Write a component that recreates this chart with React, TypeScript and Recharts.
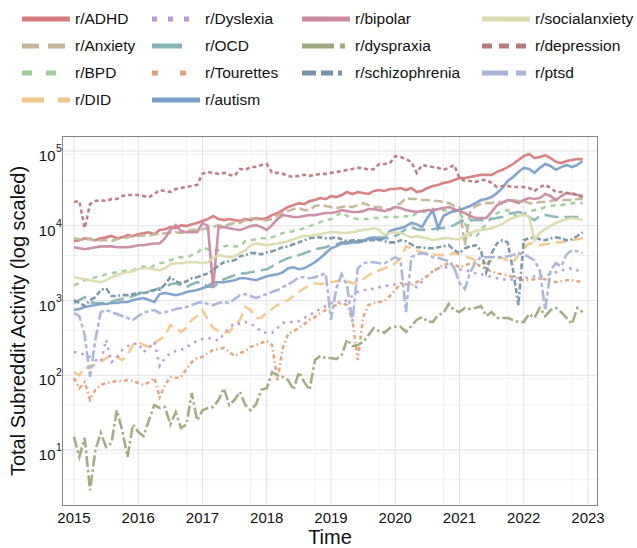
import React from 'react';
import { LineChart, Line, XAxis, YAxis, CartesianGrid } from 'recharts';

// monthly samples, Jan 2015 .. Dec 2022
const years = [2015, 2016, 2017, 2018, 2019, 2020, 2021, 2022];
const time = years.flatMap(y => Array.from({ length: 12 }, (_, m) => y + m / 12));

const adhd = [6200, 6400, 6800, 6600, 6400, 6800, 7000, 7300, 6800, 7000, 7500, 7300, 7700, 8000, 8200, 7700, 8800, 9000, 9600, 9300, 10200, 9900, 10500, 10900, 11600, 12300, 13500, 12300, 11900, 12300, 11900, 11600, 12300, 11900, 12700, 12300, 12700, 13900, 14800, 16200, 17800, 18900, 20100, 19500, 21400, 22100, 23500, 22800, 25000, 24200, 25800, 28300, 26600, 28300, 27400, 26600, 29200, 30100, 29200, 31000, 31000, 32000, 30100, 32000, 28300, 29200, 32000, 34100, 35200, 37400, 38600, 41000, 43500, 43500, 45000, 46500, 48000, 48000, 48000, 52500, 56000, 61000, 67000, 76000, 85500, 91000, 80500, 83000, 88000, 80500, 71500, 69000, 73500, 76000, 78000, 78000];
const anxiety = [6800, 6600, 6400, 6800, 6200, 6400, 6400, 6200, 6600, 6800, 7000, 7300, 7300, 7500, 7300, 7700, 7700, 8000, 8000, 8200, 8000, 8500, 8800, 8800, 9000, 9300, 9600, 10200, 9900, 10500, 10900, 10900, 11900, 12700, 12300, 11900, 11900, 12300, 13900, 14800, 15700, 16700, 17300, 16200, 16200, 18400, 18900, 18400, 17800, 17300, 17800, 18400, 17800, 18900, 20100, 18900, 17800, 17800, 16700, 16200, 18400, 20100, 23500, 22800, 22800, 22100, 22100, 21400, 21400, 20800, 20100, 18400, 17800, 5500, 15300, 18400, 19500, 20100, 20100, 20800, 20800, 21400, 22100, 21400, 21400, 20100, 20100, 20800, 20800, 21400, 22100, 22100, 22100, 22100, 22800, 22800];
const bpd = [1600, 1700, 1870, 1930, 2050, 2110, 2240, 2310, 2390, 2460, 2540, 2540, 2700, 2870, 2700, 2950, 3150, 3250, 3450, 3700, 3800, 3800, 4050, 4300, 5150, 4850, 4700, 4700, 5300, 5500, 5300, 5300, 6200, 6400, 6600, 6800, 6800, 7000, 7500, 8000, 8200, 8500, 8800, 9300, 9900, 10500, 11200, 11900, 12300, 13500, 15300, 13500, 12700, 12300, 12300, 12300, 12700, 12700, 13100, 13100, 13100, 13100, 13500, 13100, 14800, 15300, 15700, 16200, 16200, 16200, 15700, 15700, 15300, 10900, 7500, 7000, 8800, 10500, 13100, 14800, 15700, 16200, 14400, 13100, 14400, 15700, 16200, 16700, 17800, 18400, 18900, 18900, 19500, 20100, 20100, 20100];
const did = [110, 100, 129, 125, 141, 150, 170, 187, 176, 160, 187, 254, 280, 254, 239, 270, 300, 335, 470, 430, 380, 430, 550, 620, 745, 550, 430, 390, 370, 380, 470, 550, 820, 745, 585, 585, 700, 770, 870, 955, 1015, 1150, 1300, 1460, 1600, 1700, 1650, 1700, 1760, 1810, 1870, 1810, 1700, 1760, 1930, 2180, 2390, 2540, 2700, 2870, 3150, 3700, 5300, 5000, 4700, 4400, 4300, 4150, 4050, 4050, 4150, 4300, 4150, 3900, 3700, 3450, 3250, 3150, 3450, 3700, 3700, 3450, 3250, 4050, 5000, 5800, 5650, 5500, 5650, 5800, 6000, 6000, 6200, 6400, 6600, 6800];
const dyslexia = [205, 199, 187, 176, 160, 150, 300, 150, 170, 218, 246, 262, 270, 205, 232, 280, 133, 170, 199, 211, 218, 239, 262, 290, 305, 315, 305, 290, 360, 430, 500, 485, 515, 485, 445, 380, 370, 370, 430, 500, 515, 515, 530, 585, 640, 700, 770, 845, 925, 955, 925, 1015, 1150, 1300, 1380, 1380, 1460, 1510, 1550, 1600, 1650, 1700, 1700, 1650, 1510, 1810, 2180, 2460, 2700, 2780, 2780, 2780, 2620, 2540, 2460, 2310, 2240, 2180, 2050, 1990, 1930, 1870, 1930, 1990, 1990, 2050, 2110, 2110, 2180, 2240, 2390, 2540, 2620, 2700, 2540, 2310];
const ocd = [925, 1015, 1110, 955, 925, 925, 925, 955, 1015, 1050, 1080, 1150, 1220, 1300, 1340, 1380, 1460, 1510, 1650, 1700, 1600, 1510, 1650, 1760, 1700, 1550, 1510, 1700, 1930, 2050, 2180, 2310, 2310, 2390, 2460, 2540, 2620, 2870, 3150, 3450, 3700, 3800, 4050, 4300, 4550, 4850, 5000, 5150, 5500, 5650, 6000, 6000, 6200, 6200, 6400, 6600, 6800, 7000, 6800, 6800, 7300, 8000, 9000, 9600, 9000, 8800, 8800, 9000, 9300, 9300, 9600, 10200, 11200, 11900, 11900, 11900, 11900, 11900, 12300, 12700, 13100, 14400, 14800, 15300, 14800, 13100, 11900, 13500, 13900, 13500, 13100, 13100, 13100, 13100, 13100, 13100];
const tourettes = [92, 67, 81, 47, 64, 74, 79, 81, 84, 84, 86, 84, 79, 74, 81, 92, 51, 74, 95, 92, 95, 121, 150, 170, 176, 199, 218, 225, 232, 205, 181, 199, 211, 239, 254, 270, 290, 254, 86, 232, 360, 390, 430, 485, 550, 600, 680, 745, 820, 870, 925, 870, 550, 160, 600, 870, 925, 955, 985, 1150, 1380, 1700, 1650, 1600, 1760, 1930, 2110, 2460, 2700, 2950, 3150, 3050, 2780, 2950, 3150, 3150, 2870, 2620, 2460, 2310, 2240, 2180, 2050, 1990, 1870, 1870, 1930, 1990, 1930, 1810, 1760, 1810, 1870, 1870, 1810, 1760];
const autism = [745, 770, 820, 845, 870, 900, 900, 925, 925, 955, 955, 1015, 1050, 1080, 1015, 955, 1220, 1260, 1220, 1180, 1220, 1300, 1340, 1380, 1460, 1550, 1760, 1760, 1760, 1810, 1870, 1990, 1990, 1930, 1870, 1990, 2110, 2180, 2240, 2390, 2700, 2780, 2620, 2700, 2950, 3250, 3700, 4300, 5000, 5300, 5800, 5800, 6000, 6000, 6200, 6800, 7000, 6400, 7000, 8500, 9000, 9300, 9900, 10900, 10500, 9600, 12700, 16200, 9300, 13500, 14800, 15700, 16200, 17300, 18400, 20100, 22100, 22800, 24200, 27400, 32000, 39800, 45000, 52500, 59500, 57500, 51000, 59500, 67000, 63000, 56000, 61000, 65000, 61000, 65000, 73500];
const bipolar = [5150, 5000, 4850, 5000, 5150, 5300, 5300, 5300, 5150, 5150, 5150, 5300, 5500, 5500, 5650, 5800, 5800, 6800, 8800, 10200, 8500, 8200, 8200, 8200, 10900, 9900, 1510, 9600, 9600, 9300, 9000, 8800, 9300, 9900, 10200, 9600, 8800, 10200, 12300, 13900, 13500, 13100, 13100, 13500, 13900, 13900, 14400, 14800, 14800, 15300, 16200, 15700, 15300, 15300, 15700, 16700, 16700, 16200, 15700, 16700, 17800, 17300, 16200, 15700, 15300, 15700, 16200, 16200, 16700, 17300, 17800, 16700, 15700, 14800, 13500, 12700, 12700, 12700, 15300, 18900, 20100, 22100, 21400, 20100, 22100, 23500, 22800, 23500, 26600, 25000, 22100, 25000, 27400, 26600, 25800, 25000];
const dyspraxia = [15, 8.1, 14.5, 2.9, 10, 16.9, 11, 12.4, 34, 18.5, 8.1, 22, 17.4, 15.4, 25, 40, 36.5, 37.6, 22, 32, 19.7, 22, 58, 25, 34, 36.5, 37.6, 47, 67, 40, 47, 60, 40, 34, 41, 64, 67, 110, 100, 95, 86, 64, 110, 81, 64, 160, 181, 170, 170, 165, 187, 300, 246, 254, 280, 345, 430, 390, 370, 430, 445, 445, 380, 455, 550, 600, 530, 515, 640, 680, 900, 745, 700, 795, 770, 795, 845, 620, 700, 585, 585, 585, 550, 515, 515, 660, 585, 795, 620, 745, 795, 700, 585, 485, 795, 700];
const schizophrenia = [1015, 925, 845, 1015, 1110, 1380, 1460, 1150, 1150, 1180, 1180, 1220, 1260, 1260, 1300, 1380, 1380, 1650, 2050, 1810, 1700, 1810, 1990, 2050, 2180, 2310, 2540, 2950, 3250, 3350, 3450, 3900, 4050, 4300, 4300, 4150, 4400, 4550, 4850, 5150, 5300, 5650, 6000, 6400, 6800, 7000, 7000, 6800, 6800, 7000, 6600, 6200, 6400, 6400, 6200, 6400, 6400, 6600, 6200, 6000, 6000, 6400, 6200, 5650, 5150, 5150, 5000, 5000, 5150, 5300, 5500, 4700, 4300, 5000, 5300, 5500, 4700, 2390, 4300, 5800, 6400, 6000, 2540, 870, 6400, 6800, 7000, 6600, 6400, 6800, 7000, 6800, 6400, 6600, 7300, 8200];
const socialanxiety = [2050, 1990, 1930, 1870, 1810, 1760, 1870, 2050, 2180, 2310, 2390, 2460, 2620, 2700, 2700, 2620, 2540, 2700, 3050, 3150, 3150, 3250, 3250, 3250, 3150, 3250, 3700, 4050, 3900, 3800, 3900, 4300, 4700, 5500, 5800, 5650, 5500, 5650, 5800, 6000, 6200, 6600, 7000, 7300, 7300, 7500, 7700, 8000, 8200, 8200, 8000, 8000, 8200, 8500, 8800, 9000, 9300, 8800, 7500, 8000, 8200, 8000, 7500, 7000, 7300, 7000, 6800, 6400, 6600, 6800, 6800, 6600, 6600, 7300, 8000, 8500, 8800, 9000, 9300, 9900, 10500, 11900, 12700, 13500, 13900, 13500, 6400, 8000, 9000, 9900, 10900, 11600, 12300, 12700, 12300, 11900];
const depression = [20800, 21400, 9300, 19500, 21400, 22100, 21400, 22800, 22800, 25000, 25800, 25800, 25800, 25000, 24200, 26600, 30100, 29200, 28300, 31000, 32000, 33000, 34100, 35200, 49500, 52500, 51000, 49500, 51000, 48000, 46500, 57500, 56000, 61000, 61000, 65000, 67000, 51000, 51000, 49500, 46500, 45000, 46500, 48000, 46500, 48000, 49500, 49500, 51000, 52500, 54000, 56000, 57500, 59500, 59500, 56000, 57500, 67000, 67000, 69000, 85500, 83000, 78000, 71500, 51000, 65000, 63000, 61000, 59500, 56000, 59500, 65000, 43500, 39800, 39800, 38600, 41000, 41000, 37400, 33000, 34100, 34100, 33000, 33000, 33000, 32000, 29200, 33000, 35200, 32000, 28300, 28300, 27400, 27400, 25800, 24200];
const ptsd = [680, 620, 345, 95, 300, 700, 745, 700, 660, 620, 585, 550, 620, 680, 725, 745, 680, 700, 725, 770, 795, 820, 870, 925, 955, 900, 870, 925, 955, 925, 1050, 1180, 1220, 1150, 1080, 1150, 1220, 1300, 1380, 1510, 1650, 1810, 2050, 2050, 1990, 2050, 2180, 2310, 550, 1460, 2240, 1600, 515, 2700, 3150, 3250, 3250, 3150, 3150, 3450, 3800, 3450, 700, 3800, 4150, 4300, 4150, 3800, 3700, 3550, 3350, 2780, 1700, 1420, 2390, 3250, 3800, 3800, 3800, 3800, 3800, 3900, 4050, 4300, 4150, 3800, 3450, 2540, 745, 2540, 3150, 2870, 4150, 4700, 4550, 4300];

const xTicks = [2015, 2016, 2017, 2018, 2019, 2020, 2021, 2022, 2023];
const yTicks = [10, 100, 1000, 10000, 100000];

// plotting (and legend) order
const series = [
  { key: 'ADHD', name: 'r/ADHD', values: adhd, color: '#d77a7c', dash: undefined, legendDash: undefined },
  { key: 'Anxiety', name: 'r/Anxiety', values: anxiety, color: '#c3b699', dash: '9 4', legendDash: '17 9' },
  { key: 'BPD', name: 'r/BPD', values: bpd, color: '#a0cc9b', dash: '5 5', legendDash: '10 14' },
  { key: 'DID', name: 'r/DID', values: did, color: '#f1c88a', dash: '11 6', legendDash: '22 14' },
  { key: 'Dyslexia', name: 'r/Dyslexia', values: dyslexia, color: '#b99ad2', dash: '2.5 5', legendDash: '5 11' },
  { key: 'OCD', name: 'r/OCD', values: ocd, color: '#87b4b4', dash: '14 6', legendDash: '30 30' },
  { key: 'Tourettes', name: 'r/Tourettes', values: tourettes, color: '#e0a27a', dash: '4 3 1.5 3', legendDash: '6 22' },
  { key: 'autism', name: 'r/autism', values: autism, color: '#7b9fcb', dash: undefined, legendDash: undefined },
  { key: 'bipolar', name: 'r/bipolar', values: bipolar, color: '#c98aa2', dash: undefined, legendDash: undefined },
  { key: 'dyspraxia', name: 'r/dyspraxia', values: dyspraxia, color: '#9caa7e', dash: '11 3 2.5 3', legendDash: '32 6 5 6' },
  { key: 'schizophrenia', name: 'r/schizophrenia', values: schizophrenia, color: '#7893a8', dash: '6 2.5 5 2.5 2 2.5', legendDash: '14 5 12 5 4 8' },
  { key: 'socialanxiety', name: 'r/socialanxiety', values: socialanxiety, color: '#dadcae', dash: undefined, legendDash: undefined },
  { key: 'depression', name: 'r/depression', values: depression, color: '#b87a7d', dash: '4 3', legendDash: '10 7' },
  { key: 'ptsd', name: 'r/ptsd', values: ptsd, color: '#a8b3d8', dash: '11 3 4 3', legendDash: '26 8 10 8' },
];

const data = time.map((t, i) => {
  const row: any = { t };
  series.forEach(s => { row[s.key] = s.values[i]; });
  return row;
});

const minorX: number[] = [];
for (let y = 2015; y < 2023; y++) [0.25, 0.5, 0.75].forEach(q => minorX.push(y + q));
const minorY: number[] = [];
[1, 10, 100, 1000, 10000].forEach(d => [2, 3, 4, 5, 6, 7, 8, 9].forEach(m => minorY.push(m * d)));

const FONT = '"Liberation Sans", Arial, Helvetica, sans-serif';

const PowTick = ({ x, y, payload }: any) => {
  const exp = Math.round(Math.log10(payload.value));
  return (
    <g>
      <text x={x - 6.5} y={y + 10} textAnchor="end" fill="#111" fontFamily={FONT} fontSize={15}>10</text>
      <text x={x - 6} y={y + 1} textAnchor="start" fill="#111" fontFamily={FONT} fontSize={10.5}>{exp}</text>
    </g>
  );
};

const colX = [22, 152, 302, 482];
const rowY = [18.5, 45.8, 73.1, 100.4];

const Legend = () => (
  <>
    {series.map((s, i) => {
      const col = i < 4 ? 0 : i < 8 ? 1 : i < 11 ? 2 : 3;
      const row = i < 4 ? i : i < 8 ? i - 4 : i < 11 ? i - 8 : i - 11;
      return (
        <div key={s.key} style={{ position: 'absolute', left: colX[col], top: rowY[row] - 10, height: 20, display: 'flex', alignItems: 'center' }}>
          <svg width={48} height={10} style={{ display: 'block' }}>
            <line x1={0} y1={5} x2={48} y2={5} stroke={s.color} strokeWidth={5} strokeDasharray={s.legendDash} strokeLinecap="butt" />
          </svg>
          <span style={{ marginLeft: 5, fontFamily: FONT, fontSize: 15.5, color: '#111', whiteSpace: 'nowrap' }}>{s.name}</span>
        </div>
      );
    })}
  </>
);

export default function App() {
  return (
    <div style={{ position: 'absolute', left: 0, top: 0, width: 637, height: 548, background: '#fff', overflow: 'hidden' }}>
      <Legend />
      <LineChart width={637} height={548} data={data} margin={{ top: 137, right: 40, bottom: 13, left: 3 }}>
        <CartesianGrid stroke="#f3f3f3" strokeWidth={1} horizontalValues={minorY} verticalValues={minorX} />
        <CartesianGrid stroke="#e3e3e3" strokeWidth={1} horizontalValues={yTicks} verticalValues={xTicks} />
        <XAxis
          dataKey="t"
          type="number"
          domain={[2014.829, 2023.14]}
          allowDataOverflow
          ticks={xTicks}
          tickSize={0}
          tickMargin={7}
          axisLine={false}
          height={30}
          tick={{ fill: '#111', fontSize: 15, fontFamily: FONT }}
        />
        <YAxis
          scale="log"
          type="number"
          domain={[1.84, 154000]}
          allowDataOverflow
          ticks={yTicks}
          tickSize={0}
          tickMargin={1}
          axisLine={false}
          width={60}
          tick={<PowTick />}
        />
        {series.map(s => (
          <Line
            key={s.key}
            dataKey={s.key}
            name={s.name}
            type="linear"
            stroke={s.color}
            strokeWidth={2.6}
            strokeOpacity={0.95}
            strokeDasharray={s.dash}
            dot={false}
            activeDot={false}
            isAnimationActive={false}
          />
        ))}
      </LineChart>
      <div style={{ position: 'absolute', left: 62, top: 136, width: 534, height: 368, border: '1.5px solid #858585', pointerEvents: 'none' }} />
      <svg width={637} height={548} style={{ position: 'absolute', left: 0, top: 0, pointerEvents: 'none' }}>
        <text x={330} y={544} textAnchor="middle" fontFamily={FONT} fontSize={20} fill="#111">Time</text>
        <text transform="translate(25, 321) rotate(-90)" textAnchor="middle" fontFamily={FONT} fontSize={20} fill="#111">
          Total Subreddit Activity (log scaled)
        </text>
      </svg>
    </div>
  );
}
